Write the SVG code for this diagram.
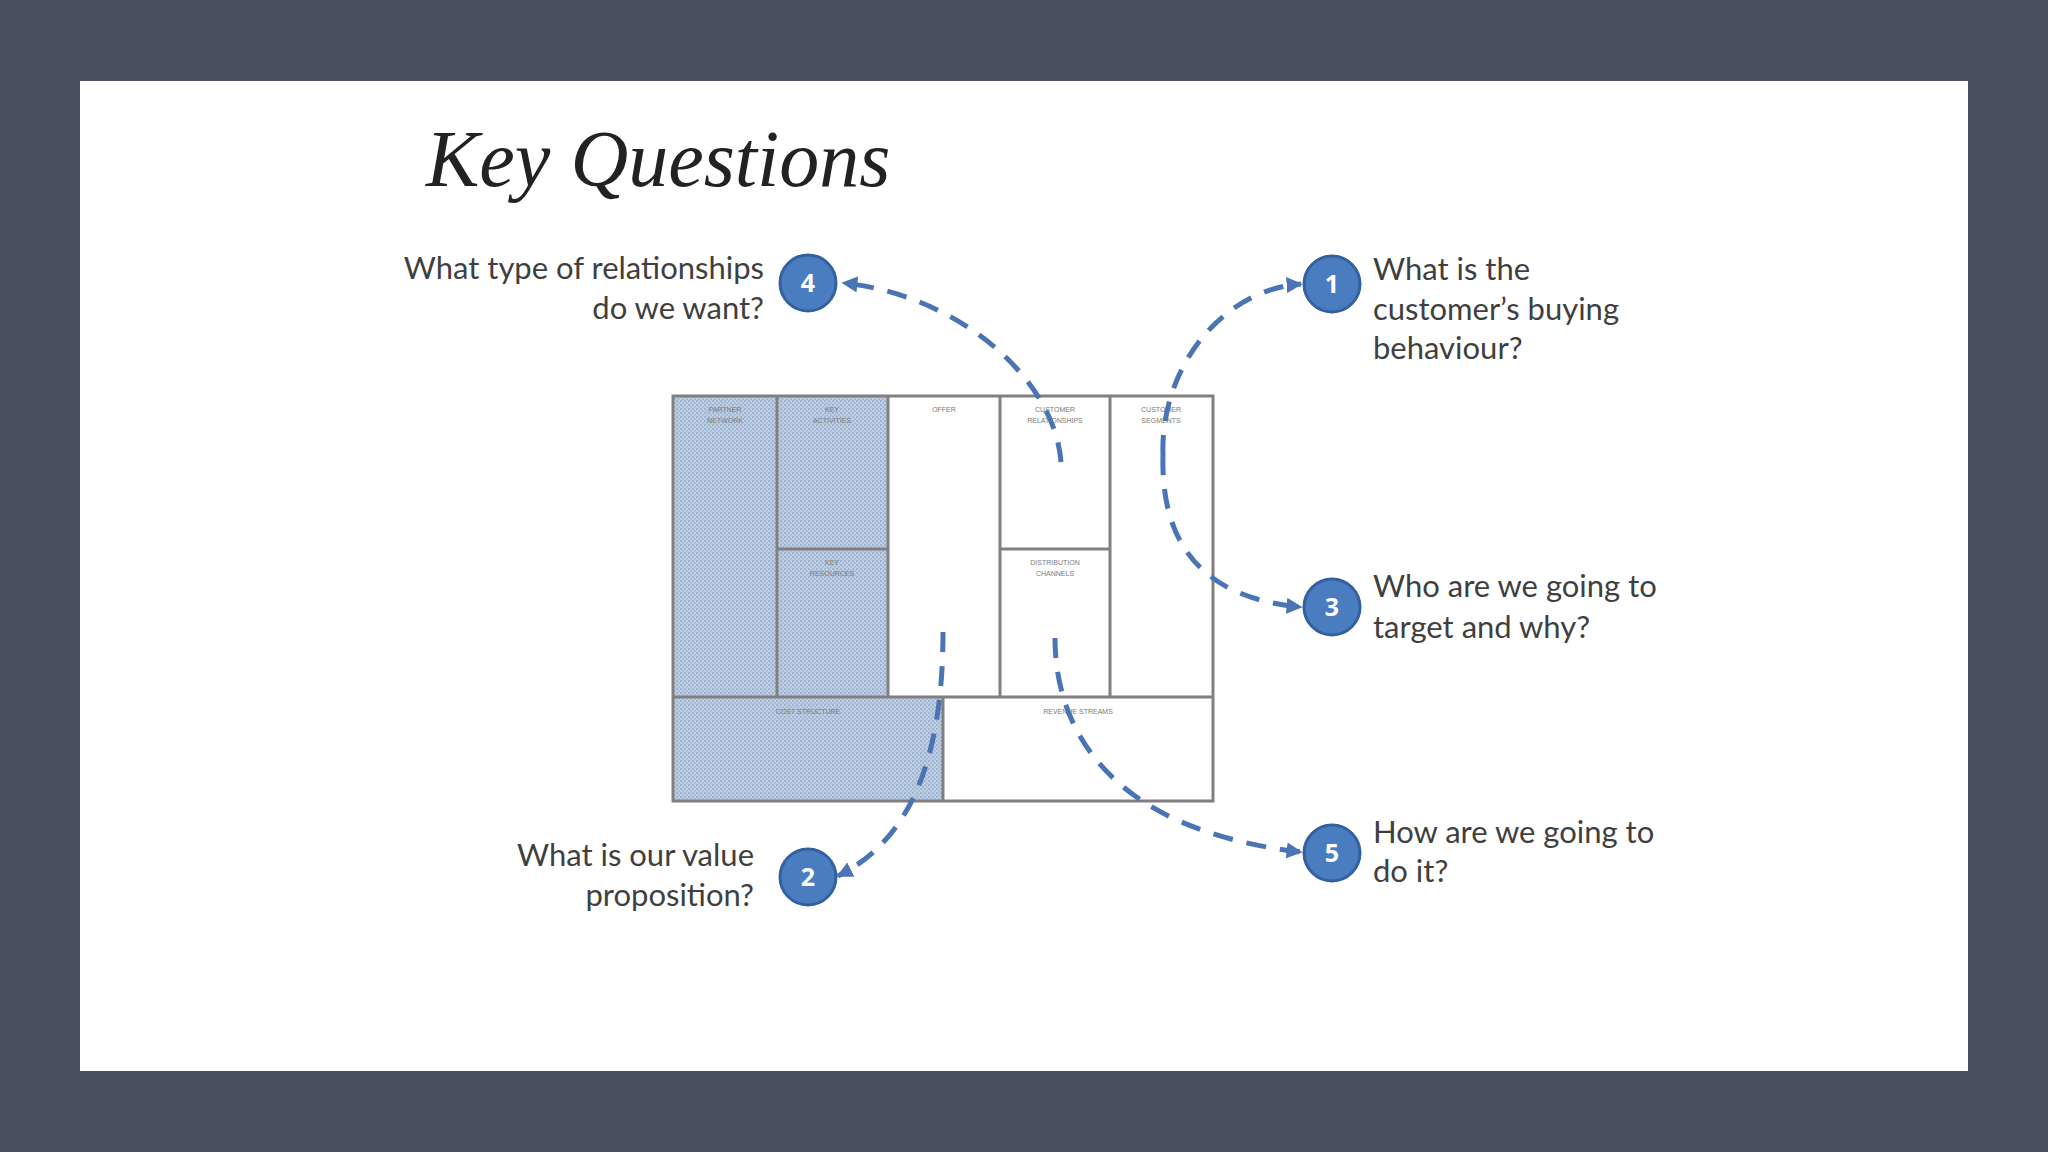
<svg xmlns="http://www.w3.org/2000/svg" width="2048" height="1152" viewBox="0 0 2048 1152">
  <defs>
    <pattern id="hatch" patternUnits="userSpaceOnUse" width="4" height="4">
      <rect width="4" height="4" fill="#bfcfe3"/>
      <circle cx="1" cy="1" r="0.9" fill="#8fa8c9"/>
      <circle cx="3" cy="3" r="0.9" fill="#9cb3d1"/>
    </pattern>
    <marker id="arrow" viewBox="0 0 10 10" refX="9" refY="5" markerWidth="16" markerHeight="16" markerUnits="userSpaceOnUse" orient="auto">
      <path d="M0,0 L10,5 L0,10 Z" fill="#4a74b4"/>
    </marker>
  </defs>
  <style>
    .q { font-family: Lato, "Open Sans", "Liberation Sans", sans-serif; font-size: 31px; fill: #3f3f3f; }
    .r { text-anchor: end; }
    .cell { stroke: #808080; stroke-width: 3; }
    .lbl { font-family: "Liberation Sans", Arial, sans-serif; font-size: 7px; fill: #7a7a7a; text-anchor: middle; }
    .conn { fill: none; stroke: #4a74b4; stroke-width: 5; stroke-dasharray: 20 14; marker-end: url(#arrow); }
    .badge circle { fill: #4a7cc0; stroke: #33609f; stroke-width: 3; }
    .badge text { font-family: "Open Sans", "Liberation Sans", sans-serif; font-size: 25px; font-weight: bold; fill: #ffffff; text-anchor: middle; }
  </style>

  <rect width="2048" height="1152" fill="#4a515e"/>
  <rect x="80" y="81" width="1888" height="990" fill="#ffffff"/>

  <text x="426" y="186" font-family="'Liberation Serif', 'DejaVu Serif', serif" font-style="italic" font-size="80" fill="#222222">Key Questions</text>

  <g id="canvas">
    <rect x="673" y="396" width="215" height="301" fill="url(#hatch)"/>
    <rect x="673" y="697" width="270" height="104" fill="url(#hatch)"/>
    <rect x="888" y="396" width="325" height="301" fill="#ffffff"/>
    <rect x="943" y="697" width="270" height="104" fill="#ffffff"/>
    <g class="cell" fill="none">
      <rect x="673" y="396" width="540" height="405"/>
      <line x1="777" y1="396" x2="777" y2="697"/>
      <line x1="888" y1="396" x2="888" y2="697"/>
      <line x1="1000" y1="396" x2="1000" y2="697"/>
      <line x1="1110" y1="396" x2="1110" y2="697"/>
      <line x1="777" y1="549" x2="888" y2="549"/>
      <line x1="1000" y1="549" x2="1110" y2="549"/>
      <line x1="673" y1="697" x2="1213" y2="697"/>
      <line x1="943" y1="697" x2="943" y2="801"/>
    </g>
    <text class="lbl" x="725" y="412">PARTNER</text>
    <text class="lbl" x="725" y="423">NETWORK</text>
    <text class="lbl" x="832" y="412">KEY</text>
    <text class="lbl" x="832" y="423">ACTIVITIES</text>
    <text class="lbl" x="944" y="412">OFFER</text>
    <text class="lbl" x="1055" y="412">CUSTOMER</text>
    <text class="lbl" x="1055" y="423">RELATIONSHIPS</text>
    <text class="lbl" x="1161" y="412">CUSTOMER</text>
    <text class="lbl" x="1161" y="423">SEGMENTS</text>
    <text class="lbl" x="832" y="565">KEY</text>
    <text class="lbl" x="832" y="576">RESOURCES</text>
    <text class="lbl" x="1055" y="565">DISTRIBUTION</text>
    <text class="lbl" x="1055" y="576">CHANNELS</text>
    <text class="lbl" x="808" y="714">COST STRUCTURE</text>
    <text class="lbl" x="1078" y="714">REVENUE STREAMS</text>
  </g>

  <g id="connectors">
    <path class="conn" d="M1061,462 C1055,380 960,295 843,283"/>
    <path class="conn" d="M1163,455 C1160,370 1220,290 1301,284"/>
    <path class="conn" d="M1163,455 C1160,560 1220,600 1301,607"/>
    <path class="conn" d="M943,632 C943,760 910,840 838,876"/>
    <path class="conn" d="M1055,638 C1055,730 1110,830 1301,852"/>
  </g>

  <g id="q4">
    <g class="badge"><circle cx="808" cy="283" r="28"/><text x="808" y="292">4</text></g>
    <text class="q r" x="764" y="279">What type of relationships</text>
    <text class="q r" x="764" y="319">do we want?</text>
  </g>
  <g id="q1">
    <g class="badge"><circle cx="1332" cy="284" r="28"/><text x="1332" y="293">1</text></g>
    <text class="q" x="1373" y="280">What is the</text>
    <text class="q" x="1373" y="320">customer’s buying</text>
    <text class="q" x="1373" y="359">behaviour?</text>
  </g>
  <g id="q3">
    <g class="badge"><circle cx="1332" cy="607" r="28"/><text x="1332" y="616">3</text></g>
    <text class="q" x="1373" y="597">Who are we going to</text>
    <text class="q" x="1373" y="638">target and why?</text>
  </g>
  <g id="q2">
    <g class="badge"><circle cx="808" cy="877" r="28"/><text x="808" y="886">2</text></g>
    <text class="q r" x="754" y="866">What is our value</text>
    <text class="q r" x="754" y="906">proposition?</text>
  </g>
  <g id="q5">
    <g class="badge"><circle cx="1332" cy="853" r="28"/><text x="1332" y="862">5</text></g>
    <text class="q" x="1373" y="843">How are we going to</text>
    <text class="q" x="1373" y="882">do it?</text>
  </g>
</svg>
